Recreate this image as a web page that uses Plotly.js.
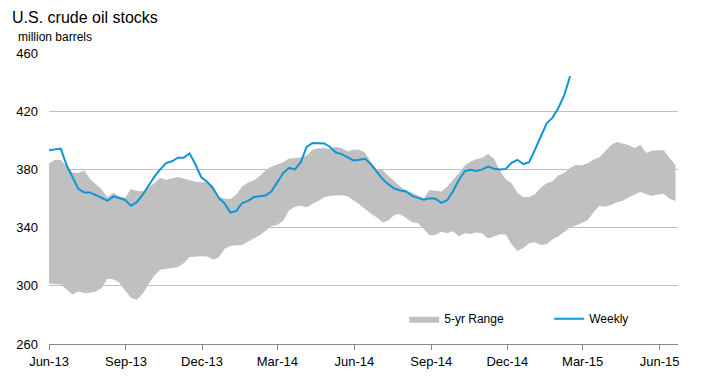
<!DOCTYPE html>
<html>
<head>
<meta charset="utf-8">
<script src="https://cdn.plot.ly/plotly-3.0.1.min.js"></script>
<style>
  html, body { margin: 0; padding: 0; background: #ffffff; }
  #chart { width: 718px; height: 384px; }
</style>
</head>
<body>
<div id="chart"></div>
<script>
// Weekly U.S. crude oil stocks (million barrels)
const weeklyValues = [
  393.2, 393.8, 394.3, 383.0, 374.8, 366.6, 364.2, 364.2, 362.3, 360.3,
  358.6, 361.5, 360.0, 359.0, 355.0, 357.5, 362.6, 369.0, 375.0, 380.0,
  384.3, 385.6, 388.0, 388.0, 391.0, 383.5, 374.6, 371.6, 367.0, 360.5,
  356.5, 350.3, 351.5, 356.9, 358.4, 361.0, 361.5, 362.0, 365.0, 371.5,
  377.5, 381.0, 380.0, 385.0, 395.5, 398.2, 397.8, 397.8, 395.4, 391.6,
  390.5, 388.2, 386.2, 386.6, 387.3, 383.5, 378.5, 373.2, 369.6, 366.8,
  365.5, 364.8, 361.8, 360.4, 359.2, 360.2, 359.8, 357.0, 358.8, 365.0,
  372.7, 378.8, 379.8, 379.0, 380.0, 382.0, 380.5, 380.0, 380.2, 384.5,
  386.6, 383.7, 385.0, 393.5, 403.0, 411.7, 415.6, 422.2, 431.0, 444.0
];

// 5-year range: upper bound (million barrels)
const rangeUpper = [
  384.1, 386.6, 386.4, 382.0, 377.8, 377.5, 379.2, 373.5, 370.1, 366.2,
  360.9, 364.0, 361.6, 360.5, 366.5, 365.1, 365.0, 367.5, 370.5, 374.2,
  372.9, 374.0, 374.7, 373.8, 372.8, 371.5, 371.2, 371.3, 369.0, 361.0,
  359.8, 359.6, 362.5, 368.5, 371.0, 372.5, 375.5, 379.5, 382.0, 383.5,
  385.0, 387.5, 388.0, 388.2, 389.5, 393.5, 394.5, 394.6, 394.0, 395.5,
  394.5, 392.5, 393.5, 393.5, 391.5, 385.0, 380.0, 379.5, 375.5, 371.5,
  368.2, 365.5, 364.2, 362.0, 360.0, 365.8, 365.5, 364.8, 368.0, 372.5,
  377.5, 382.5, 385.5, 387.0, 388.0, 390.5, 387.5, 379.0, 373.2, 370.5,
  364.0, 361.0, 361.0, 363.0, 367.5, 370.5, 371.8, 376.0, 377.5, 381.0,
  383.0, 382.8, 384.3, 386.8, 388.3, 392.5, 396.8, 398.8, 397.7, 396.8,
  394.6, 397.0, 391.3, 393.0, 393.2, 393.2, 387.8, 383.0
];

// 5-year range: lower bound (million barrels)
const rangeLower = [
  301.8, 301.1, 301.0, 297.5, 294.0, 296.0, 295.0, 295.3, 296.0, 298.5,
  305.0, 304.4, 302.2, 296.8, 291.8, 290.4, 294.5, 301.0, 307.0, 311.0,
  311.8, 312.2, 312.8, 315.5, 319.8, 320.2, 320.3, 320.2, 318.0, 319.5,
  325.5, 327.5, 327.8, 328.0, 330.5, 332.5, 334.7, 337.8, 341.0, 342.0,
  344.5, 352.0, 354.3, 355.0, 354.0, 356.4, 358.2, 360.8, 361.8, 362.0,
  362.3, 361.5, 359.0, 356.0, 352.8, 349.5, 347.0, 343.5, 345.0, 348.8,
  349.2, 346.5, 343.8, 343.2, 339.0, 334.7, 335.0, 337.2, 336.1, 337.5,
  334.0, 336.2, 335.6, 336.6, 336.0, 332.5, 333.8, 335.5, 335.3, 328.5,
  324.0, 326.0, 329.2, 330.0, 328.0, 328.5, 332.0, 334.0, 337.0, 340.0,
  341.5, 343.0, 345.0, 350.5, 355.0, 354.3, 355.5, 357.5, 358.5, 360.8,
  362.5, 364.5, 363.0, 361.8, 362.8, 363.3, 359.8, 358.2
];

// Axis ticks
const xTickVals = ['2013-06-01','2013-09-01','2013-12-01','2014-03-01','2014-06-01',
                   '2014-09-01','2014-12-01','2015-03-01','2015-06-01'];
const xTickText = ['Jun-13','Sep-13','Dec-13','Mar-14','Jun-14','Sep-14','Dec-14','Mar-15','Jun-15'];
const yTickVals = [260, 300, 340, 380, 420, 460];

// Weekly dates starting 2013-06-01
function weeklyDates(n) {
  const out = [];
  const t0 = Date.UTC(2013, 5, 1);
  for (let i = 0; i < n; i++) {
    const d = new Date(t0 + i * 7 * 86400000);
    out.push(d.toISOString().slice(0, 10));
  }
  return out;
}
const bandDates = weeklyDates(rangeUpper.length);
const lineDates = weeklyDates(weeklyValues.length);

const FONT = 'Liberation Sans, Arial, sans-serif';

const traces = [
  {
    x: bandDates, y: rangeLower, type: 'scatter', mode: 'lines',
    line: { width: 0, color: 'rgba(0,0,0,0)' },
    showlegend: false, hoverinfo: 'skip'
  },
  {
    x: bandDates, y: rangeUpper, type: 'scatter', mode: 'lines',
    name: '5-yr Range',
    fill: 'tonexty', fillcolor: 'rgb(192,192,192)',
    line: { width: 0, color: 'rgb(192,192,192)' },
    hoverinfo: 'skip'
  },
  {
    x: lineDates, y: weeklyValues, type: 'scatter', mode: 'lines',
    name: 'Weekly',
    line: { color: '#0f95d4', width: 2 },
    hoverinfo: 'skip'
  }
];

const layout = {
  width: 718, height: 384,
  margin: { l: 48.5, r: 40, t: 52.6, b: 39.7, pad: 0 },
  paper_bgcolor: '#ffffff', plot_bgcolor: '#ffffff',
  font: { family: FONT, size: 13, color: '#000000' },
  title: {
    text: 'U.S. crude oil stocks',
    font: { family: FONT, size: 16, color: '#000000' },
    xref: 'container', yref: 'container',
    x: 12 / 718, xanchor: 'left',
    y: 1 - 17 / 384, yanchor: 'middle'
  },
  annotations: [{
    text: 'million barrels', showarrow: false,
    xref: 'paper', yref: 'paper',
    x: (15 - 48.5) / 629.5, xanchor: 'left',
    y: 1 + (52.6 - 37) / 291.7, yanchor: 'middle',
    font: { family: FONT, size: 12, color: '#000000' }
  }],
  xaxis: {
    type: 'date',
    range: ['2013-06-01', '2015-06-23'],
    tickmode: 'array', tickvals: xTickVals, ticktext: xTickText,
    ticks: 'outside', ticklen: 5, tickwidth: 1, tickcolor: '#888888',
    showgrid: false, zeroline: false,
    showline: true, linecolor: '#888888', linewidth: 1,
    tickfont: { family: FONT, size: 13, color: '#000000' },
    fixedrange: true
  },
  yaxis: {
    range: [260, 460],
    tickmode: 'array', tickvals: yTickVals,
    showgrid: true, gridcolor: '#bfbfbf', gridwidth: 1,
    zeroline: false, showline: false, ticks: '',
    ticklabelstandoff: 10,
    tickfont: { family: FONT, size: 13, color: '#000000' },
    fixedrange: true
  },
  legend: {
    orientation: 'h',
    x: (404 - 48.5) / 629.5, xanchor: 'left',
    y: (344.3 - 319) / 291.7, yanchor: 'middle',
    font: { family: FONT, size: 12, color: '#000000' },
    bgcolor: 'rgba(0,0,0,0)',
    entrywidth: 100, entrywidthmode: 'pixels',
    traceorder: 'normal'
  },
  showlegend: true,
  hovermode: false
};

Plotly.newPlot('chart', traces, layout, { displayModeBar: false, staticPlot: true });
</script>
</body>
</html>
